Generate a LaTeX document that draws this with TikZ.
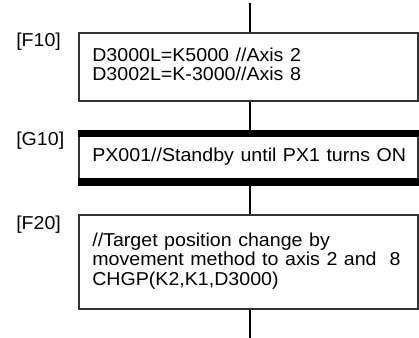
\documentclass[tikz,border=0pt]{standalone}
\usepackage{graphicx}
\usepackage{fontspec}
\setmainfont{Liberation Sans}
\usetikzlibrary{positioning}
\newcommand{\wide}[1]{\scalebox{1.05}[1]{\begin{tabular}{@{}l@{}}#1\end{tabular}}}

\begin{document}
\begin{tikzpicture}[
  x=0.75pt, y=-0.75pt,
  every node/.style={font=\fontsize{14}{14.8}\selectfont},
  stepbox/.style={draw=black!80, line width=0.8pt, minimum width=254.25pt, inner xsep=10pt, text width=234.25pt, align=left},
  tag/.style={inner sep=0pt, anchor=north west},
  bar/.style={fill=black},
  flow/.style={line width=1.1pt}
]
  \useasboundingbox (0,0) rectangle (419,338);
  \coordinate (top) at (250,3);
  \coordinate (bot) at (250,338);

  \node[stepbox, minimum height=51pt] (f10) at (248.5,67) {\wide{D3000L=K5000 //Axis 2\\D3002L=K-3000//Axis 8}};
  \node[stepbox, minimum height=40.5pt] (g10) at (248.5,158) {\wide{PX001//Standby until PX1 turns ON}};
  \node[stepbox, minimum height=70.5pt] (f20) at (248.5,262) {\wide{//Target position change by\\movement method to axis 2 and\ \ 8\\CHGP(K2,K1,D3000)}};

  \fill[bar] (g10.north west) rectangle ([yshift=-5.25pt]g10.north east);
  \fill[bar] ([yshift=6pt]g10.south west) rectangle (g10.south east);

  \node[tag] (lf10) at (16,32) {\wide{[F10]}};
  \node[tag] (lg10) at (16,131) {\wide{[G10]}};
  \node[tag] (lf20) at (16,215.5) {\wide{[F20]}};

  \draw[flow] (top) -- (top |- f10.north);
  \draw[flow] (top |- f10.south) -- (top |- g10.north);
  \draw[flow] (top |- g10.south) -- (top |- f20.north);
  \draw[flow] (top |- f20.south) -- (bot);
\end{tikzpicture}
\end{document}
